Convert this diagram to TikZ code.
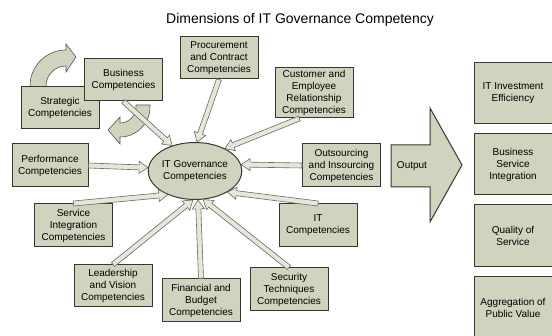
\documentclass[tikz,border=0pt]{standalone}
\usepackage{fontspec}
\setmainfont{Liberation Sans}
\usetikzlibrary{shapes.geometric,calc}
\definecolor{boxfill}{RGB}{208,211,189}
\definecolor{boxline}{RGB}{55,55,50}
\tikzset{
  comp/.style={draw=boxline, fill=boxfill, line width=1pt, align=center, inner sep=0pt,
    minimum width=78pt, minimum height=43pt, font=\fontsize{10}{12}\selectfont},
  result/.style={comp, minimum height=61pt},
  feedarrow/.style={draw=boxline!75, fill=boxfill!55!white, line width=0.6pt, line join=miter},
  bendarrow/.style={draw=boxline!85, fill=boxfill, line width=0.6pt}
}
% block arrow from one anchor to another
\newcommand{\feed}[2]{%
  \coordinate (fb) at ($(#2)!9pt!(#1)$);
  \draw[feedarrow] ($(#1)!2.5pt!90:(#2)$) -- ($(fb)!2.5pt!90:(#2)$)
    -- ($(fb)!6pt!90:(#2)$) -- (#2) -- ($(fb)!6pt!-90:(#2)$)
    -- ($(fb)!2.5pt!-90:(#2)$) -- ($(#1)!2.5pt!-90:(#2)$) -- cycle;}

\begin{document}
\begin{tikzpicture}[x=1pt,y=-1pt]
\useasboundingbox (0,0) rectangle (552,336);
\node (title) at (300,20) {\fontsize{14}{16}\selectfont Dimensions of IT Governance Competency};
% curved arrows between strategic and business
\draw[bendarrow] (46,90) -- (46,86) arc[start angle=180, end angle=270, radius=20]
  -- (66,72) -- (76,57) -- (66,44) -- (66,50) arc[start angle=270, end angle=180, radius=36]
  -- (30,90) -- cycle;
\draw[bendarrow] (136,105) -- (136,107) arc[start angle=0, end angle=90, radius=16]
  -- (120,117) -- (108,130) -- (120,144) -- (120,137) arc[start angle=90, end angle=0, radius=30]
  -- (150,105) -- cycle;
% competencies
\node[comp, minimum height=42pt] (strat) at (60,108) {Strategic\\Competencies};
\node[comp, minimum height=42pt] (bus) at (123.5,80) {Business\\Competencies};
\node[comp, minimum height=42pt] (proc) at (219,58) {Procurement\\and Contract\\Competencies};
\node[comp, minimum height=50pt] (cust) at (314,93) {Customer and\\Employee\\Relationship\\Competencies};
\node[comp, minimum width=76pt] (perf) at (50,165.5) {Performance\\Competencies};
\node[comp] (outs) at (341.5,165.5) {Outsourcing\\and Insourcing\\Competencies};
\node[comp] (sint) at (73.5,225.5) {Service\\Integration\\Competencies};
\node[comp] (itc) at (318,225.5) {IT\\Competencies};
\node[comp, minimum height=42pt] (lead) at (113,286) {Leadership\\and Vision\\Competencies};
\node[comp] (fin) at (201,300.5) {Financial and\\Budget\\Competencies};
\node[comp] (sec) at (289,289.5) {Security\\Techniques\\Competencies};
\node[comp, ellipse, minimum width=82pt, minimum height=57pt] (itg) at (195,171) {IT Governance\\Competencies};
% arrows into the ellipse
\feed{bus.south}{itg.132}
\feed{proc.south}{itg.86}
\feed{cust.240}{itg.37}
\feed{perf.east}{itg.176}
\feed{outs.west}{itg.8}
\feed{sint.north}{itg.221}
\feed{lead.north}{itg.266}
\feed{fin.north}{itg.276}
\feed{sec.north}{itg.286}
\feed{itc.north}{itg.327}
% output
\draw[comp] (391,145) -- (430,145) -- (430,108) -- (462,165) -- (430,222) -- (430,187)
  -- (391,187) -- cycle;
\node[font=\fontsize{10}{12}\selectfont] (out) at (412,166) {Output};
\node[result] (inv) at (513,93.5) {IT Investment\\Efficiency};
\node[result] (bsi) at (513,164.5) {Business\\Service\\Integration};
\node[result, minimum height=62pt] (qos) at (513,236) {Quality of\\Service};
\node[result] (apv) at (513,307.5) {Aggregation of\\Public Value};
\end{tikzpicture}
\end{document}
